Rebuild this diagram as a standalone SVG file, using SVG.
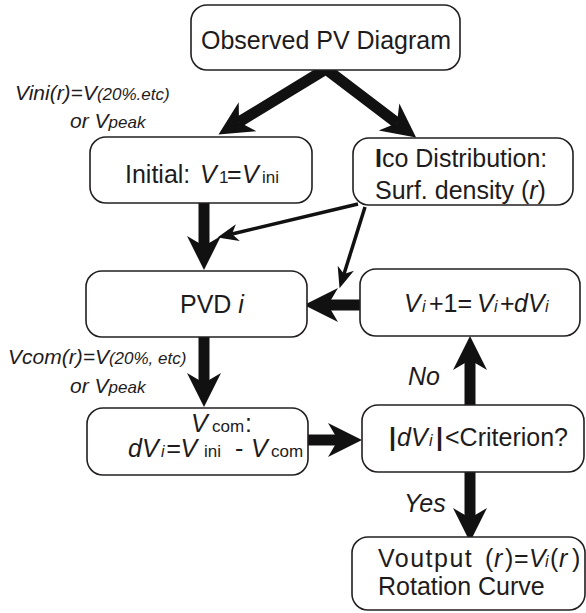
<svg xmlns="http://www.w3.org/2000/svg" width="586" height="613" viewBox="0 0 586 613">
<defs>
<style>
.box{fill:#fff;stroke:#231f20;stroke-width:1.6}
.t{font-family:"Liberation Sans",Arial,sans-serif;font-size:25px;fill:#1e1b1c}
.it{font-style:italic}
.lab{font-family:"Liberation Sans",Arial,sans-serif;font-size:21px;font-style:italic;fill:#1e1b1c}
.big{font-size:25px}
.sm{font-size:17px}
.sub{font-size:16px}
.thick{fill:none;stroke:#111;stroke-width:11;stroke-linejoin:miter}
.thin{fill:none;stroke:#111;stroke-width:3.5}
</style>
<marker id="ah" markerUnits="userSpaceOnUse" viewBox="-12 -19 38 38" markerWidth="38" markerHeight="38" refX="0" refY="0" orient="auto-start-reverse">
<path d="M24,0 L-10,-17 L0,0 L-10,17 Z" fill="#111"/>
</marker>
<marker id="ahs" markerUnits="userSpaceOnUse" viewBox="-8 -10 24 20" markerWidth="24" markerHeight="20" refX="0" refY="0" orient="auto">
<path d="M15,0 L-6,-8.5 L0,0 L-6,8.5 Z" fill="#111"/>
</marker>
</defs>
<rect width="586" height="613" fill="#fff"/>

<g id="connectors">
<polyline class="thick" points="239,122 326,69 397,123" marker-start="url(#ah)" marker-end="url(#ah)"/>
<line class="thick" x1="204" y1="203" x2="204" y2="246" marker-end="url(#ah)"/>
<line class="thick" x1="204" y1="337" x2="204" y2="383" marker-end="url(#ah)"/>
<line class="thick" x1="361" y1="305" x2="328" y2="305" marker-end="url(#ah)"/>
<line class="thick" x1="308" y1="440" x2="338" y2="440" marker-end="url(#ah)"/>
<line class="thick" x1="470" y1="405" x2="470" y2="360" marker-end="url(#ah)"/>
<line class="thick" x1="470" y1="472" x2="470" y2="518" marker-end="url(#ah)"/>
<line class="thin" x1="358" y1="204" x2="232" y2="234" marker-end="url(#ahs)"/>
<line class="thin" x1="365" y1="207" x2="344" y2="274" marker-end="url(#ahs)"/>
</g>

<g id="observed">
<rect class="box" x="191" y="5" width="269" height="65" rx="16"/>
<text class="t" x="326" y="49" text-anchor="middle">Observed PV Diagram</text>
</g>

<g id="initial">
<rect class="box" x="90" y="137" width="222" height="66" rx="16"/>
<text class="t" x="125" y="183">Initial:<tspan class="it" x="200">V</tspan><tspan class="sm" x="219">1</tspan><tspan x="227">=</tspan><tspan class="it" x="242">V</tspan><tspan class="sm" x="262">ini</tspan></text>
</g>

<g id="ico">
<rect class="box" x="353" y="138" width="220" height="67" rx="16"/>
<text class="t" x="375" y="167"><tspan font-weight="bold">I</tspan>co Distribution:</text>
<text class="t" x="375" y="199">Surf. density (<tspan class="it">r</tspan>)</text>
</g>

<g id="pvd">
<rect class="box" x="86" y="271" width="221" height="66" rx="16"/>
<text class="t" x="180" y="313">PVD <tspan class="it">i</tspan></text>
</g>

<g id="update">
<rect class="box" x="360" y="269" width="220" height="67" rx="16"/>
<text class="t" y="312"><tspan class="it" x="404">V</tspan><tspan class="it sub" x="422">i</tspan><tspan x="429">+1=</tspan><tspan class="it" x="477">V</tspan><tspan class="it sub" x="494">i</tspan><tspan x="500">+</tspan><tspan class="it" x="514">dV</tspan><tspan class="it sub" x="545">i</tspan></text>
</g>

<g id="vcom">
<rect class="box" x="87" y="408" width="221" height="67" rx="16"/>
<text class="t" y="432"><tspan class="it" x="191">V</tspan><tspan class="sm" x="212">com</tspan><tspan x="245">:</tspan></text>
<text class="t" y="457"><tspan class="it" x="128">dV</tspan><tspan class="it sub" x="161">i</tspan><tspan class="it" x="166">=V</tspan><tspan class="sm" x="204">ini</tspan><tspan x="235">-</tspan><tspan class="it" x="251">V</tspan><tspan class="sm" x="271">com</tspan></text>
</g>

<g id="criterion">
<rect class="box" x="362" y="405" width="222" height="67" rx="16"/>
<text class="t" y="446"><tspan font-weight="bold" x="389">|</tspan><tspan class="it" x="397">dV</tspan><tspan class="it sub" x="429">i</tspan><tspan font-weight="bold" x="436">|</tspan><tspan x="445">&lt;Criterion?</tspan></text>
</g>

<g id="output">
<rect class="box" x="352" y="537" width="233" height="73" rx="16"/>
<text class="t" y="567"><tspan x="378" letter-spacing="1.5">Voutput</tspan><tspan x="485">(</tspan><tspan class="it" x="494">r</tspan><tspan x="505">)</tspan><tspan x="514">=</tspan><tspan class="it" x="529">V</tspan><tspan class="it sub" x="545">i</tspan><tspan x="550">(</tspan><tspan class="it" x="559">r</tspan><tspan x="572">)</tspan></text>
<text class="t" x="378" y="595">Rotation Curve</text>
</g>

<g id="labels">
<text class="lab" x="15" y="100">Vini(r)=V<tspan class="sm">(20%.etc)</tspan></text>
<text class="lab" x="70" y="128">or V<tspan class="sm">peak</tspan></text>
<text class="lab" x="8" y="364">Vcom(r)=V<tspan class="sm">(20%, etc)</tspan></text>
<text class="lab" x="70" y="393">or V<tspan class="sm">peak</tspan></text>
<text class="lab big" x="408" y="385">No</text>
<text class="lab big" x="404" y="512">Yes</text>
</g>
</svg>
